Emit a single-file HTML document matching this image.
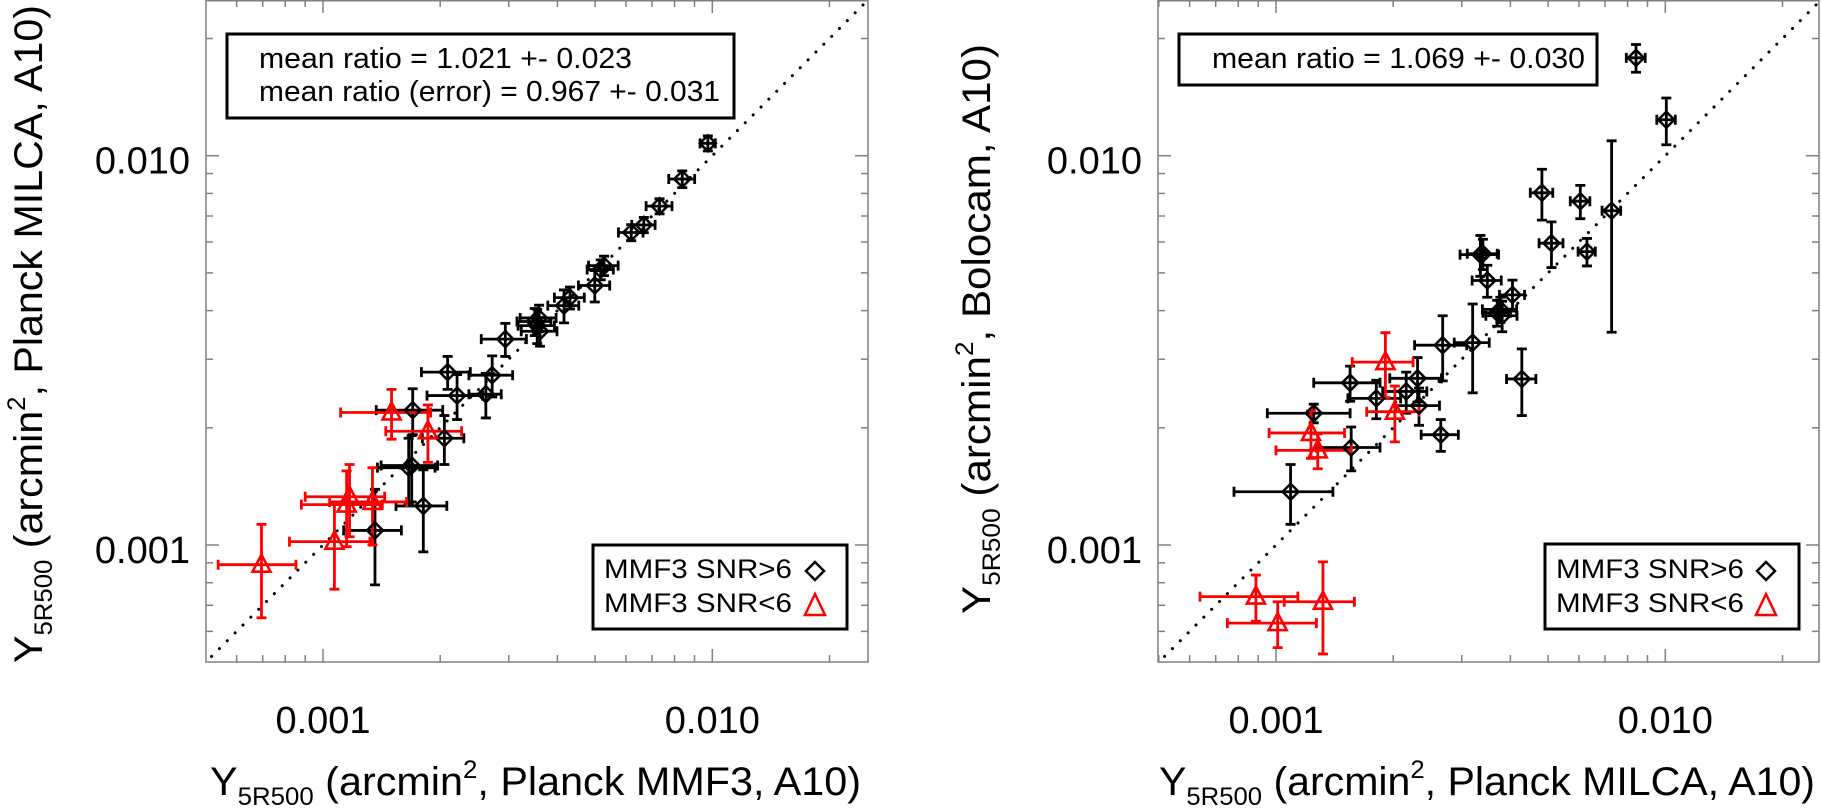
<!DOCTYPE html>
<html><head><meta charset="utf-8">
<style>
html,body{margin:0;padding:0;background:#fff;}
svg{display:block;font-family:"Liberation Sans",Arial,sans-serif;}
</style></head>
<body>
<svg id="chart" width="1821" height="809" viewBox="0 0 1821 809" xmlns="http://www.w3.org/2000/svg">
<defs>
<clipPath id="clipL"><rect x="206" y="0" width="662" height="662"/></clipPath>
<clipPath id="clipR"><rect x="1158" y="0" width="662" height="662"/></clipPath>
</defs>
<g id="panelL"></g>
<g id="panelR"></g>

<rect x="227" y="34" width="507" height="84" fill="#fff" stroke="#000" stroke-width="3"/>
<text x="259" y="68" font-size="29" textLength="373" lengthAdjust="spacingAndGlyphs">mean ratio = 1.021 +- 0.023</text>
<text x="259" y="101" font-size="29" textLength="461" lengthAdjust="spacingAndGlyphs">mean ratio (error) = 0.967 +- 0.031</text>

<rect x="593" y="545" width="254" height="84" fill="#fff" stroke="#000" stroke-width="3"/>
<text x="604" y="578" font-size="27" textLength="188" lengthAdjust="spacingAndGlyphs">MMF3 SNR&gt;6</text>
<path d="M815 562 L824 571 L815 580 L806 571 Z" fill="none" stroke="#000" stroke-width="2.5"/>
<text x="604" y="612" font-size="27" textLength="188" lengthAdjust="spacingAndGlyphs">MMF3 SNR&lt;6</text>
<path d="M815 594 L825 615 L805 615 Z" fill="none" stroke="#f00" stroke-width="2.5"/>

<rect x="1179" y="34" width="418" height="51" fill="#fff" stroke="#000" stroke-width="3"/>
<text x="1212" y="68" font-size="29" textLength="373" lengthAdjust="spacingAndGlyphs">mean ratio = 1.069 +- 0.030</text>

<rect x="1545" y="544" width="254" height="85" fill="#fff" stroke="#000" stroke-width="3"/>
<text x="1556" y="578" font-size="27" textLength="188" lengthAdjust="spacingAndGlyphs">MMF3 SNR&gt;6</text>
<path d="M1766 562 L1775 571 L1766 580 L1757 571 Z" fill="none" stroke="#000" stroke-width="2.5"/>
<text x="1556" y="612" font-size="27" textLength="188" lengthAdjust="spacingAndGlyphs">MMF3 SNR&lt;6</text>
<path d="M1766 594 L1776 615 L1756 615 Z" fill="none" stroke="#f00" stroke-width="2.5"/>

<text x="210" y="795" font-size="40" textLength="651" lengthAdjust="spacingAndGlyphs">Y<tspan font-size="25" dy="10">5R500</tspan><tspan dy="-10"> (arcmin</tspan><tspan font-size="25" dy="-17">2</tspan><tspan dy="17">, Planck MMF3, A10)</tspan></text>
<text x="1159" y="795" font-size="40" textLength="656" lengthAdjust="spacingAndGlyphs">Y<tspan font-size="25" dy="10">5R500</tspan><tspan dy="-10"> (arcmin</tspan><tspan font-size="25" dy="-17">2</tspan><tspan dy="17">, Planck MILCA, A10)</tspan></text>
<text transform="translate(42,663) rotate(-90)" x="0" y="0" font-size="40" textLength="658" lengthAdjust="spacingAndGlyphs">Y<tspan font-size="25" dy="10">5R500</tspan><tspan dy="-10"> (arcmin</tspan><tspan font-size="25" dy="-17">2</tspan><tspan dy="17">, Planck MILCA, A10)</tspan></text>
<text transform="translate(990,614) rotate(-90)" x="0" y="0" font-size="40" textLength="570" lengthAdjust="spacingAndGlyphs">Y<tspan font-size="25" dy="10">5R500</tspan><tspan dy="-10"> (arcmin</tspan><tspan font-size="25" dy="-17">2</tspan><tspan dy="17">, Bolocam, A10)</tspan></text>
</svg>

<script>
// values in units of 1e-3 arcmin^2
const tickValues = [1, 10];
const tickLabels = ["0.001", "0.010"];

const leftBlackX  = [9.74,8.37,7.32,6.67,6.19,5.27,5.17,4.99,4.31,4.16,3.59,3.55,3.50,3.61,2.94,2.09,2.72,2.21,2.62,1.70,2.05,1.69,1.66,1.81,1.36];
const leftBlackEX = [0.44,0.64,0.56,0.46,0.45,0.46,0.40,0.46,0.38,0.38,0.38,0.38,0.35,0.38,0.39,0.30,0.35,0.36,0.25,0.33,0.25,0.28,0.28,0.27,0.23];
const leftBlackY  = [10.76,8.71,7.42,6.64,6.35,5.22,5.10,4.64,4.32,4.12,3.83,3.66,3.75,3.54,3.38,2.78,2.73,2.42,2.44,2.22,1.88,1.60,1.58,1.26,1.09];
const leftBlackEY = [0.48,0.43,0.33,0.30,0.30,0.30,0.30,0.43,0.28,0.40,0.30,0.37,0.30,0.30,0.33,0.27,0.33,0.32,0.32,0.30,0.27,0.31,0.30,0.30,0.30];
const leftRedX  = [1.50,1.86,1.17,1.15,1.34,1.07,0.695];
const leftRedEX = [0.39,0.41,0.27,0.27,0.30,0.25,0.157];
const leftRedY  = [2.19,1.96,1.33,1.27,1.29,1.02,0.89];
const leftRedEY = [0.32,0.33,0.28,0.28,0.29,0.25,0.24];

const rightBlackX  = [8.41,10.06,7.28,4.82,6.05,5.10,6.29,3.35,3.40,3.49,4.05,3.77,3.81,3.70,2.68,3.20,4.28,2.65,2.31,2.16,2.33,1.81,1.55,1.25,1.56,1.09];
const rightBlackEX = [0.47,0.55,0.40,0.32,0.35,0.36,0.32,0.38,0.30,0.30,0.30,0.38,0.35,0.30,0.41,0.33,0.37,0.29,0.35,0.28,0.30,0.28,0.30,0.30,0.29,0.31];
const rightBlackY  = [17.84,12.37,7.22,8.03,7.64,5.96,5.67,5.57,5.60,4.78,4.39,4.03,3.88,3.95,3.26,3.31,2.67,1.92,2.68,2.48,2.28,2.38,2.61,2.18,1.78,1.37];
const rightBlackEY = [1.46,1.70,3.70,1.20,0.75,0.80,0.46,0.67,0.50,0.45,0.40,0.30,0.35,0.30,0.62,0.85,0.52,0.18,0.35,0.30,0.25,0.27,0.27,0.12,0.23,0.24];
const rightRedX  = [1.91,2.02,1.23,1.28,0.888,1.01,1.32];
const rightRedEX = [0.34,0.31,0.27,0.28,0.25,0.26,0.27];
const rightRedY  = [2.95,2.20,1.94,1.75,0.737,0.63,0.715];
const rightRedEY = [0.56,0.36,0.27,0.18,0.10,0.085,0.19];

const NS = "http://www.w3.org/2000/svg";
const DEC = 389.3;
function mk(tag, attrs, parent){const e=document.createElementNS(NS,tag);for(const k in attrs)e.setAttribute(k,attrs[k]);parent.appendChild(e);return e;}

function makeAxes(x0){
  return {
    x: v => x0 + DEC*Math.log10(v),
    y: v => 545 - DEC*Math.log10(v)
  };
}

function drawPanel(gid, clipId, x0, left, right, blk, red, side){
  const g = document.getElementById(gid);
  const ax = makeAxes(x0);
  const top = 0, bot = 662;
  const fr = mk("rect",{x:left,y:top+0.75,width:right-left,height:bot-top-0.75,fill:"none",stroke:"#808080","stroke-width":1.5},g);
  
  
  for(let k=-1;k<=1;k++){
    for(let m=1;m<=9;m++){
      const v = m*Math.pow(10,k);
      const len = (m===1)?13:7;
      const px = ax.x(v), py = ax.y(v);
      if(px>left+0.5 && px<right-0.5){
        const t1 = mk("line",{x1:px,y1:bot,x2:px,y2:bot-len,stroke:"#808080","stroke-width":1.5},g);
        
        
        const t2 = mk("line",{x1:px,y1:top,x2:px,y2:top+len,stroke:"#808080","stroke-width":1.5},g);
        
        
      }
      if(py>top+0.5 && py<bot-0.5){
        const t3 = mk("line",{x1:left,y1:py,x2:left+len,y2:py,stroke:"#808080","stroke-width":1.5},g);
        
        
        const t4 = mk("line",{x1:right,y1:py,x2:right-len,y2:py,stroke:"#808080","stroke-width":1.5},g);
        
        
      }
    }
  }
  tickValues.forEach((v,i)=>{
    const tx = mk("text",{x:ax.x(v),y:733,"font-size":38,"text-anchor":"middle"},g);
    tx.textContent = tickLabels[i];
    
    
    const ty = mk("text",{x:left-16,y:ax.y(v)+18,"font-size":38,"text-anchor":"end"},g);
    ty.textContent = tickLabels[i];
    
    
  });
  const pg = mk("g",{"clip-path":"url(#"+clipId+")"},g);
  
  
  const dl = mk("line",{x1:ax.x(0.45),y1:ax.y(0.45),x2:ax.x(30),y2:ax.y(30),stroke:"#000","stroke-width":3,"stroke-dasharray":"0.1 11","stroke-linecap":"round"},pg);
  
  

  function errbars(X,EX,Y,EY,color,name){
    for(let i=0;i<X.length;i++){
      const cx=ax.x(X[i]), cy=ax.y(Y[i]);
      const xl=ax.x(X[i]-EX[i]), xr=ax.x(X[i]+EX[i]);
      const yt=ax.y(Y[i]+EY[i]), yb=ax.y(Y[i]-EY[i]);
      const d = `M${xl} ${cy}H${xr}M${xl} ${cy-5}V${cy+5}M${xr} ${cy-5}V${cy+5}M${cx} ${yt}V${yb}M${cx-5} ${yt}H${cx+5}M${cx-5} ${yb}H${cx+5}`;
      const e = mk("path",{d:d,fill:"none",stroke:color,"stroke-width":2.8},pg);
      
      
    }
  }
  errbars(blk[0],blk[1],blk[2],blk[3],"#000",side+'-high-snr');
  errbars(red[0],red[1],red[2],red[3],"#f00",side+'-low-snr');
  for(let i=0;i<blk[0].length;i++){
    const cx=ax.x(blk[0][i]), cy=ax.y(blk[2][i]);
    const p = mk("path",{d:`M${cx} ${cy-8}L${cx+8} ${cy}L${cx} ${cy+8}L${cx-8} ${cy}Z`,fill:"none",stroke:"#000","stroke-width":2.5},pg);
    
    
  }
  for(let i=0;i<red[0].length;i++){
    const cx=ax.x(red[0][i]), cy=ax.y(red[2][i]);
    const p = mk("path",{d:`M${cx} ${cy-10}L${cx+9} ${cy+7}L${cx-9} ${cy+7}Z`,fill:"none",stroke:"#f00","stroke-width":2.6},pg);
    
    
  }
}

drawPanel("panelL","clipL",323,206,868,[leftBlackX,leftBlackEX,leftBlackY,leftBlackEY],[leftRedX,leftRedEX,leftRedY,leftRedEY],"left");
drawPanel("panelR","clipR",1276,1158,1819,[rightBlackX,rightBlackEX,rightBlackY,rightBlackEY],[rightRedX,rightRedEX,rightRedY,rightRedEY],"right");
</script>
</body></html>
